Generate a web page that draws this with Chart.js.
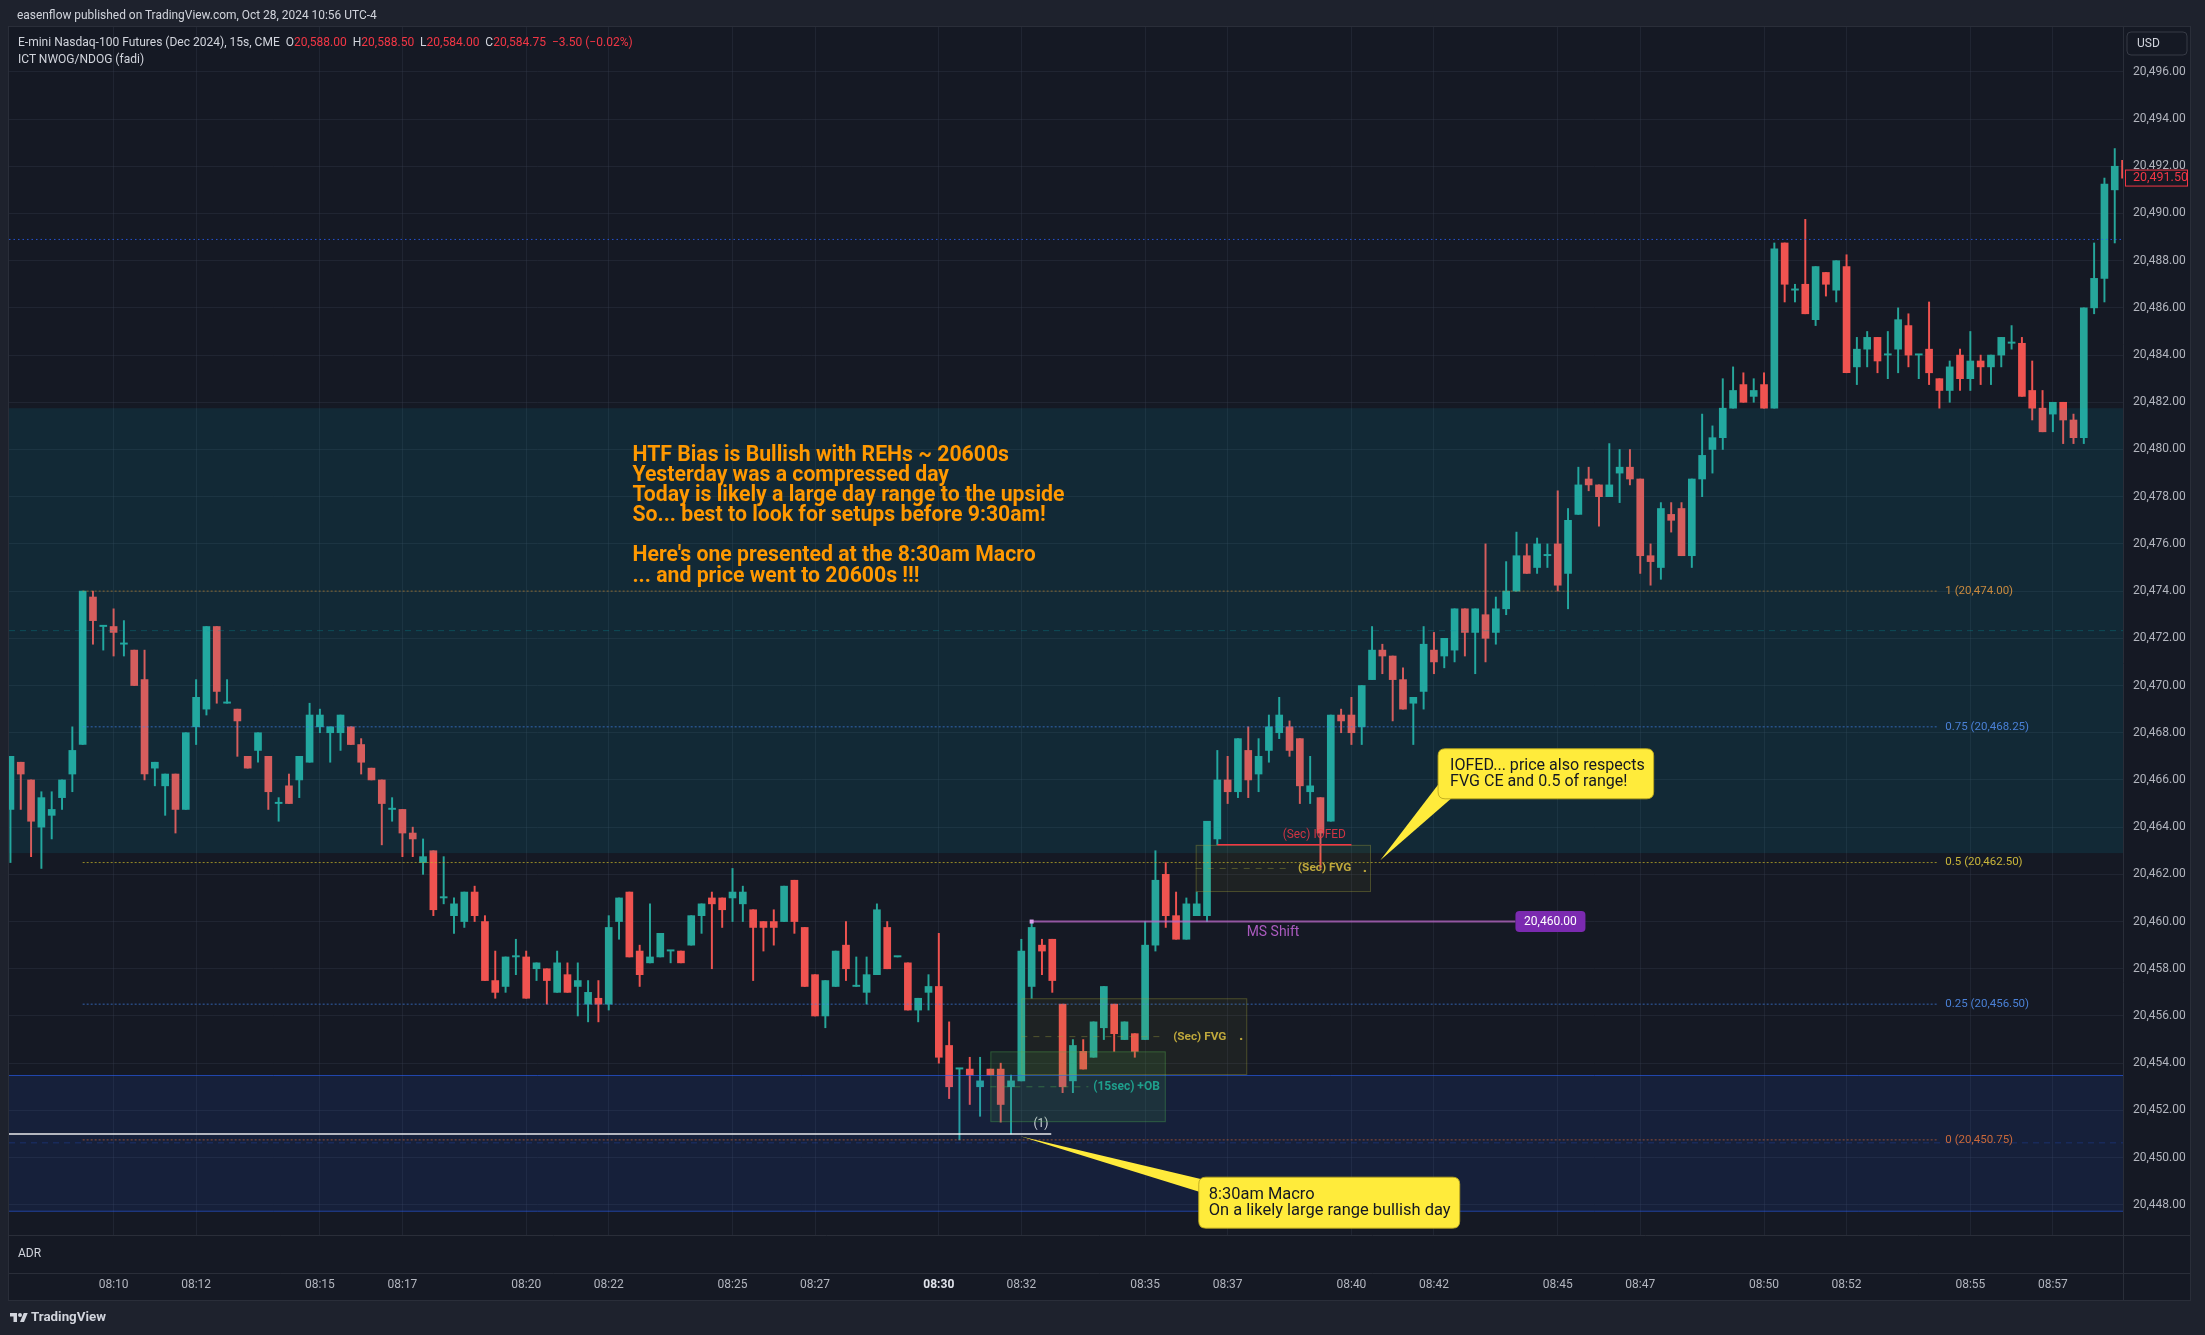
<!DOCTYPE html>
<html>
<head>
<meta charset="utf-8">
<script src="https://cdn.jsdelivr.net/npm/chart.js@4.4.1/dist/chart.umd.min.js"></script>
<style>
html, body { margin: 0; padding: 0; background: #1e222d; width: 2205px; height: 1335px; overflow: hidden; }
#wrap { position: relative; width: 2205px; height: 1335px; }
canvas { position: absolute; left: 0; top: 0; }
.t { position: absolute; white-space: nowrap; color: #d1d4dc; font-family: Roboto, "Noto Sans", sans-serif; font-size: 13px; line-height: 16px; }
.r { color: #f23645; }
</style>
</head>
<body>
<div id="wrap">
  <canvas id="c" width="2205" height="1335"></canvas>
  <div class="t" id="hdr" style="left:17px;top:7px">easenflow published on TradingView.com, Oct 28, 2024 10:56 UTC-4</div>
  <div class="t" id="leg1" style="left:18px;top:34px">E-mini Nasdaq-100 Futures (Dec 2024), 15s, CME&nbsp;&nbsp;O<span class="r">20,588.00</span>&nbsp;&nbsp;H<span class="r">20,588.50</span>&nbsp;&nbsp;L<span class="r">20,584.00</span>&nbsp;&nbsp;C<span class="r">20,584.75</span>&nbsp;&nbsp;<span class="r">−3.50 (−0.02%)</span></div>
  <div class="t" id="leg2" style="left:18px;top:51px">ICT NWOG/NDOG (fadi)</div>
  <svg style="position:absolute;left:10px;top:1311px" width="18" height="14" viewBox="0 0 36 28"><path d="M14 22H7V11H0V4h14v18z" fill="#d1d4dc"/><circle cx="20" cy="8" r="4" fill="#d1d4dc"/><path d="M28 22h-8l7.5-18h8L28 22z" fill="#d1d4dc"/></svg>
  <div class="t" id="foot" style="left:31px;top:1309px;font-weight:bold">TradingView</div>
</div>
<script>
// 15 second bars, first bar 08:07:30
const startTime = '08:07:30';
const barSeconds = 15;

const opens = [
  20464.75, 20466.75, 20466, 20464, 20464.5, 20465.25, 20466.25, 20467.5, 20473.75, 20472.5,
  20472.5, 20471.75, 20471.5, 20470.25, 20466.5, 20465.75, 20466.25, 20464.75, 20468.25, 20469,
  20472.5, 20469.25, 20469, 20467, 20467.25, 20467, 20465, 20465.75, 20466, 20466.75,
  20468.25, 20468, 20468, 20468.25, 20467.5, 20466.5, 20466, 20464.75, 20464.75, 20463.75,
  20462.5, 20463, 20461, 20460.25, 20460, 20461.25, 20460, 20457.5, 20457.25, 20458.5,
  20458.5, 20458, 20458, 20457, 20457.75, 20457.25, 20456.5, 20456.75, 20456.5, 20460,
  20461.25, 20458.75, 20458.25, 20458.5, 20458.75, 20458.75, 20459, 20460.25, 20461, 20461,
  20461, 20460.75, 20460.5, 20460, 20460, 20460, 20461.75, 20459.75, 20457.75, 20456,
  20457.25, 20459, 20457.25, 20457, 20457.75, 20459.75, 20458.5, 20458.25, 20456.25, 20457,
  20457.25, 20454.75, 20453.75, 20453.75, 20453, 20453.75, 20453.75, 20453, 20453.25, 20457.25,
  20459, 20459.25, 20456.5, 20453.25, 20454.5, 20454.25, 20455.5, 20456.5, 20455, 20455.25,
  20455, 20459, 20462, 20460.25, 20459.25, 20460.25, 20460.25, 20463.5, 20466, 20465.5,
  20467.25, 20466.25, 20467.25, 20468, 20468.25, 20467.75, 20465.5, 20465.25, 20464.25, 20468.75,
  20468.75, 20468.25, 20470.25, 20471.5, 20471.25, 20470.25, 20469.25, 20469.75, 20471.5, 20471.25,
  20471.5, 20473.25, 20472.25, 20473, 20472.25, 20473.25, 20474, 20475.5, 20475, 20475.5,
  20476, 20474.75, 20477.25, 20478.75, 20478.5, 20478, 20479, 20479.25, 20478.75, 20475.5,
  20475, 20477.25, 20477.5, 20475.5, 20478.75, 20480, 20480.5, 20481.75, 20482.75, 20482.25,
  20482.75, 20481.75, 20488.75, 20486.75, 20487, 20485.5, 20487.5, 20486.75, 20487.75, 20483.5,
  20484.25, 20484.75, 20484, 20484.25, 20485.25, 20484, 20484.25, 20483, 20482.5, 20484,
  20483, 20483.75, 20483.5, 20484, 20484.5, 20484.5, 20482.5, 20481.75, 20481.5, 20482,
  20481.25, 20480.5, 20486, 20487.25, 20491, 20492.25
];
const highs = [
  20467, 20466.75, 20466, 20465.5, 20465.5, 20466, 20468.25, 20474, 20474, 20472.5,
  20473.25, 20472.75, 20471.5, 20471.5, 20466.75, 20466.25, 20466.25, 20468, 20470.25, 20472.5,
  20472.5, 20470.25, 20469, 20467, 20468, 20467, 20465.25, 20466.25, 20467, 20469.25,
  20469, 20468.25, 20468.75, 20468.25, 20467.75, 20466.5, 20466, 20465.25, 20464.75, 20464,
  20463.5, 20463, 20462.75, 20461, 20461.25, 20461.5, 20460.25, 20458.75, 20458.5, 20459.25,
  20458.75, 20458.25, 20458, 20458.75, 20458.25, 20458.25, 20457.5, 20457.5, 20460.25, 20461,
  20461.25, 20459, 20460.75, 20459.5, 20458.75, 20458.75, 20460.25, 20460.75, 20461.25, 20461,
  20462.25, 20461.5, 20460.5, 20460, 20460.5, 20461.5, 20461.75, 20459.75, 20457.75, 20457.5,
  20458.75, 20460, 20458.5, 20458.5, 20460.75, 20460, 20458.5, 20458.25, 20456.75, 20457.75,
  20459.5, 20455.75, 20453.75, 20454.25, 20454.25, 20453.75, 20454, 20453.5, 20459.25, 20460,
  20459.25, 20459.25, 20456.5, 20455, 20455, 20455.75, 20457.25, 20456.5, 20455.75, 20455.25,
  20460, 20463, 20462.5, 20461.25, 20461, 20461.25, 20464.25, 20467.25, 20467, 20467.75,
  20468.25, 20467.75, 20468.75, 20469.5, 20468.5, 20467.75, 20467, 20465.25, 20468.75, 20469,
  20469.5, 20470, 20472.5, 20471.75, 20471.25, 20470.75, 20469.5, 20472.5, 20472.25, 20472,
  20473.25, 20473.25, 20473.25, 20476, 20473.75, 20475.25, 20476.5, 20476, 20476.25, 20476,
  20478.25, 20477.5, 20479.25, 20479.25, 20478.5, 20480.25, 20480, 20480, 20478.75, 20476,
  20477.75, 20477.75, 20477.75, 20478.75, 20481.5, 20481, 20483, 20483.5, 20483.25, 20483,
  20483.25, 20488.75, 20488.75, 20487, 20489.75, 20487.75, 20487.5, 20488, 20488.25, 20484.75,
  20485, 20484.75, 20485, 20486, 20485.75, 20484, 20486.25, 20483, 20483.75, 20484.25,
  20485, 20484, 20484, 20484.75, 20485.25, 20484.75, 20483.75, 20482.5, 20482, 20482,
  20481.5, 20486, 20488.75, 20491.5, 20492.75, 20492.25
];
const lows = [
  20462.5, 20464.75, 20462.75, 20462.25, 20463.5, 20464.75, 20465.5, 20467.5, 20471.75, 20471.5,
  20471.25, 20471.25, 20470, 20466, 20465.75, 20464.5, 20463.75, 20464.75, 20467.5, 20468.75,
  20469.25, 20469.25, 20467, 20466.5, 20466.75, 20464.75, 20464.25, 20465, 20465.25, 20466.75,
  20468, 20466.75, 20467.25, 20467.5, 20466.25, 20466, 20463.25, 20464.25, 20462.75, 20462.75,
  20462, 20460.25, 20460.75, 20459.5, 20459.75, 20460, 20457.5, 20456.75, 20457, 20457.75,
  20456.75, 20457.5, 20456.5, 20457, 20457, 20456, 20455.75, 20455.75, 20456.25, 20459.25,
  20458.5, 20457.25, 20458.25, 20458.5, 20458.25, 20458.25, 20459, 20459.5, 20458, 20459.75,
  20460, 20460, 20457.5, 20458.75, 20459, 20460, 20459.5, 20457.25, 20456, 20455.5,
  20457.25, 20457.5, 20457.25, 20456.5, 20457.75, 20458, 20458.5, 20456.25, 20455.75, 20456.25,
  20454, 20452.5, 20450.75, 20452.25, 20451.75, 20453.5, 20451.5, 20451, 20453.25, 20456.75,
  20457.75, 20457, 20452.75, 20452.75, 20453.75, 20454.25, 20455, 20454.5, 20455, 20454.25,
  20455, 20458.75, 20459.75, 20459.25, 20459.25, 20460.25, 20460, 20463.25, 20465, 20465.25,
  20465.25, 20465.5, 20466.75, 20467.75, 20467, 20465, 20465, 20462.25, 20464.25, 20468,
  20467.5, 20467.5, 20470.25, 20470.5, 20468.5, 20469, 20467.5, 20469, 20470.5, 20470.75,
  20471, 20471.25, 20470.5, 20471, 20471.75, 20473, 20474, 20474.75, 20474.75, 20475,
  20474, 20473.25, 20477.25, 20478.25, 20476.75, 20478, 20477.75, 20478.5, 20474.75, 20474.25,
  20474.5, 20476.5, 20475.5, 20475, 20478, 20479, 20480, 20481.75, 20482, 20482,
  20481.75, 20481.75, 20486.25, 20486.25, 20485.75, 20485.25, 20486.5, 20486.25, 20483.25, 20482.75,
  20483.5, 20483.25, 20483, 20483.25, 20483.5, 20483, 20482.75, 20481.75, 20482, 20482.5,
  20482.5, 20482.75, 20482.75, 20483.5, 20484.25, 20482.25, 20481.25, 20480.75, 20480.75, 20480.25,
  20480.25, 20480.25, 20485.75, 20486.25, 20488.75, 20491.5
];
const closes = [
  20467, 20466.25, 20464.25, 20465.25, 20464.75, 20466, 20467.25, 20474, 20472.75, 20472.5,
  20472.25, 20471.75, 20470, 20466.25, 20466.75, 20466.25, 20464.75, 20468, 20469.5, 20472.5,
  20469.75, 20469.25, 20468.5, 20466.5, 20468, 20465.5, 20465, 20465, 20467, 20468.75,
  20468.75, 20468.25, 20468.75, 20467.5, 20466.75, 20466, 20465, 20464.75, 20463.75, 20463.5,
  20462.75, 20460.5, 20461, 20460.75, 20461.25, 20460.25, 20457.5, 20457, 20458.5, 20458.5,
  20456.75, 20458.25, 20457.5, 20458.25, 20457, 20457.5, 20457, 20456.5, 20459.75, 20461,
  20458.5, 20457.75, 20458.5, 20459.5, 20458.75, 20458.25, 20460.25, 20460.75, 20460.75, 20460.5,
  20461.25, 20461.25, 20459.75, 20459.75, 20459.75, 20461.5, 20460, 20457.25, 20456, 20457.5,
  20458.75, 20458, 20457.25, 20457.75, 20460.5, 20458, 20458.5, 20456.25, 20456.75, 20457.25,
  20454.25, 20453, 20453.75, 20453.5, 20453.25, 20453.5, 20452.25, 20453.25, 20458.75, 20459.75,
  20458.75, 20457.5, 20453, 20454.75, 20453.75, 20455.75, 20457.25, 20455.25, 20455.75, 20454.5,
  20459, 20461.75, 20460.25, 20459.25, 20460.75, 20460.75, 20464.25, 20466, 20465.5, 20467.75,
  20466, 20467, 20468.25, 20468.75, 20467.25, 20465.75, 20465.75, 20463.75, 20468.75, 20468.5,
  20468, 20470, 20471.5, 20471.25, 20470.25, 20469, 20469.5, 20471.75, 20471, 20472,
  20473.25, 20472.25, 20473.25, 20472, 20473.25, 20474, 20475.5, 20474.75, 20476, 20475.5,
  20474.25, 20477, 20478.5, 20478.5, 20478, 20478.5, 20479.25, 20478.75, 20475.5, 20475.25,
  20477.5, 20477, 20475.5, 20478.75, 20479.75, 20480.5, 20481.75, 20482.5, 20482, 20482.5,
  20481.75, 20488.5, 20487, 20486.75, 20485.75, 20487.75, 20487, 20488, 20483.25, 20484.25,
  20484.75, 20483.75, 20484, 20485.5, 20484, 20484, 20483.25, 20482.5, 20483.5, 20483,
  20483.75, 20483.5, 20484, 20484.75, 20484.5, 20482.25, 20481.75, 20480.75, 20482, 20481.25,
  20480.5, 20486, 20487.25, 20491.25, 20492, 20491.5
];

const timeTicks = ['08:10', '08:12', '08:15', '08:17', '08:20', '08:22', '08:25', '08:27', '08:30', '08:32',
                   '08:35', '08:37', '08:40', '08:42', '08:45', '08:47', '08:50', '08:52', '08:55', '08:57'];
const priceTicks = [20448, 20450, 20452, 20454, 20456, 20458, 20460, 20462, 20464, 20466, 20468, 20470, 20472,
                    20474, 20476, 20478, 20480, 20482, 20484, 20486, 20488, 20490, 20492, 20494, 20496];

// study levels (prices)
const fibRatios = [1, 0.75, 0.5, 0.25, 0];
const fibPrices = [20474.00, 20468.25, 20462.50, 20456.50, 20450.75];
const nwogZone = [20462.9, 20481.75];
const ndogZone = [20447.75, 20453.5];
const prevClose = 20488.9;
const sweepLow = 20451.0;
const iofedPrice = 20463.25;
const msShiftPrice = 20460.00;
const fvgUpper = [20461.25, 20463.25];
const fvgLower = [20453.5, 20456.75];
const obZone = [20451.5, 20454.5];
const lastPrice = 20491.50;

const noteLines = [
  'HTF Bias is Bullish with REHs ~ 20600s',
  'Yesterday was a compressed day',
  'Today is likely a large day range to the upside',
  'So... best to look for setups before 9:30am!',
  '',
  "Here's one presented at the 8:30am Macro",
  '... and price went to 20600s !!!'
];

const family = 'Roboto, "Noto Sans", sans-serif';
const upColor = '#26a69a';
const downColor = '#ef5350';
const pageBg = '#1e222d';
const paneBg = '#151924';
const lineCol = '#2a2e39';
const panel = { left: 8, top: 26, right: 2191, bottom: 1301 };
const adrHeight = 38;

const toSec = s => { const p = s.split(':').map(Number); return p[0] * 3600 + p[1] * 60 + (p[2] || 0); };
const tickIndex = timeTicks.map(t => (toSec(t) - toSec(startTime)) / barSeconds);
const fmt = v => v.toLocaleString('en-US', { minimumFractionDigits: 2, maximumFractionDigits: 2 });
const candleColors = opens.map((o, i) => closes[i] >= o ? upColor : downColor);

function fitSize(c, str, target, weight) {
  c.font = weight + ' 100px ' + family;
  return 100 * target / c.measureText(str).width;
}
function txt(c, str, x, y, color, size, weight, align) {
  c.font = (weight || 'normal') + ' ' + size + 'px ' + family;
  c.fillStyle = color;
  c.textAlign = align || 'left';
  c.textBaseline = 'middle';
  c.fillText(str, x, y);
}
function hline(c, x1, x2, y, color, w, dash) {
  c.save();
  c.strokeStyle = color; c.lineWidth = w; c.setLineDash(dash || []);
  c.beginPath(); c.moveTo(x1, y); c.lineTo(x2, y); c.stroke();
  c.restore();
}
function box(c, x1, y1, x2, y2, fill, stroke) {
  c.fillStyle = fill; c.fillRect(x1, y1, x2 - x1, y2 - y1);
  if (stroke) { c.strokeStyle = stroke; c.lineWidth = 1; c.strokeRect(x1 + 0.5, y1 + 0.5, x2 - x1 - 1, y2 - y1 - 1); }
}
function rrect(c, x, y, w, h, r) {
  c.beginPath();
  c.moveTo(x + r, y); c.lineTo(x + w - r, y); c.quadraticCurveTo(x + w, y, x + w, y + r);
  c.lineTo(x + w, y + h - r); c.quadraticCurveTo(x + w, y + h, x + w - r, y + h);
  c.lineTo(x + r, y + h); c.quadraticCurveTo(x, y + h, x, y + h - r);
  c.lineTo(x, y + r); c.quadraticCurveTo(x, y, x + r, y); c.closePath();
}
function callout(c, b, tip, base, lines, target) {
  c.fillStyle = '#ffeb3b';
  c.beginPath(); c.moveTo(tip[0], tip[1]); c.lineTo(base[0][0], base[0][1]); c.lineTo(base[1][0], base[1][1]); c.closePath(); c.fill();
  rrect(c, b.l, b.t, b.r - b.l, b.b - b.t, 7); c.fill();
  c.strokeStyle = 'rgba(190,170,30,0.9)'; c.lineWidth = 1; c.stroke();
  const size = fitSize(c, lines[target], b.w, 'normal');
  const mid = (b.t + b.b) / 2;
  lines.forEach((s, k) => txt(c, s, b.l + b.pad, mid + (k - (lines.length - 1) / 2) * 15.5, '#131722', size, 'normal'));
}

const studies = {
  id: 'studies',
  beforeDraw(chart) {
    const c = chart.ctx;
    c.save();
    c.fillStyle = pageBg; c.fillRect(0, 0, chart.width, chart.height);
    c.fillStyle = paneBg; c.fillRect(panel.left, panel.top, panel.right - panel.left, panel.bottom - panel.top);
    c.restore();
  },
  afterDatasetsDraw(chart) {
    const c = chart.ctx, a = chart.chartArea;
    const X = v => chart.scales.x.getPixelForValue(v);
    const Y = v => chart.scales.y.getPixelForValue(v);
    c.save();
    c.beginPath(); c.rect(a.left, a.top, a.right - a.left, a.bottom - a.top); c.clip();

    // NWOG / NDOG zones
    box(c, a.left, Y(nwogZone[1]), a.right, Y(nwogZone[0]), 'rgba(0,188,212,0.1)');
    hline(c, a.left, a.right, Y((nwogZone[0] + nwogZone[1]) / 2), 'rgba(0,160,170,0.3)', 1, [6, 5]);
    box(c, a.left, Y(ndogZone[1]), a.right, Y(ndogZone[0]), 'rgba(41,98,255,0.1)');
    hline(c, a.left, a.right, Y(ndogZone[1]) + 0.5, 'rgba(41,98,255,0.6)', 1);
    hline(c, a.left, a.right, Y(ndogZone[0]) + 0.5, 'rgba(41,98,255,0.6)', 1);
    hline(c, a.left, a.right, Y((ndogZone[0] + ndogZone[1]) / 2), 'rgba(41,98,255,0.25)', 1, [6, 5]);
    hline(c, a.left, a.right, Y(prevClose), 'rgba(41,98,255,0.8)', 1, [1.5, 3]);

    // range levels
    const fibLine = ['rgba(230,150,40,0.55)', 'rgba(66,133,244,0.65)', 'rgba(205,185,40,0.7)', 'rgba(66,133,244,0.65)', 'rgba(230,110,50,0.6)'];
    const fibText = ['#c98a3e', '#4a80d6', '#c8b53a', '#4a80d6', '#c9683a'];
    fibRatios.forEach((r, k) => {
      const y = Y(fibPrices[k]);
      hline(c, X(7), X(186.8), y, fibLine[k], 1, [2, 2]);
      txt(c, r + ' (' + fmt(fibPrices[k]) + ')', X(186.8) + 8, y, fibText[k], 11.5);
    });

    // sweep low
    hline(c, a.left, X(100.9), Y(sweepLow), 'rgba(255,255,255,0.9)', 1.5);
    txt(c, '(1)', X(99.9), Y(sweepLow) - 10, '#d1d4dc', 12, 'normal', 'center');

    // order block
    box(c, X(95), Y(obZone[1]), X(112), Y(obZone[0]), 'rgba(76,175,80,0.13)', 'rgba(76,175,80,0.35)');
    hline(c, X(95), X(104.5), Y((obZone[0] + obZone[1]) / 2), 'rgba(76,175,80,0.45)', 1, [6, 6]);
    txt(c, '(15sec) +OB', X(108.2), Y((obZone[0] + obZone[1]) / 2), '#1f9f8c', fitSize(c, '(15sec) +OB', 66.7, 'bold'), 'bold', 'center');

    // fair value gaps
    [[fvgLower, 98, 119.9, 111.5, 115.3], [fvgUpper, 114.9, 131.9, 124, 127.4]].forEach(g => {
      const z = g[0], mid = (z[0] + z[1]) / 2;
      box(c, X(g[1]), Y(z[1]), X(g[2]), Y(z[0]), 'rgba(180,180,40,0.06)', 'rgba(160,160,60,0.35)');
      hline(c, X(g[1]), X(g[3]), Y(mid), 'rgba(160,160,60,0.4)', 1, [6, 6]);
      txt(c, '(Sec) FVG', X(g[4]), Y(mid), '#bfa83c', fitSize(c, '(Sec) FVG', 53.3, 'bold'), 'bold', 'center');
      txt(c, '.', X(g[2]) - 6, Y(mid), '#bfa83c', 15, 'bold', 'center');
    });

    // IOFED
    hline(c, X(117), X(130), Y(iofedPrice), '#f23645', 1.5);
    txt(c, '(Sec) IOFED', X(126.4), Y(iofedPrice) - 10, 'rgba(242,54,69,0.85)', fitSize(c, '(Sec) IOFED', 63.3, 'normal'), 'normal', 'center');

    // market structure shift
    const ym = Y(msShiftPrice);
    hline(c, X(99), X(145.9), ym, 'rgba(186,104,200,0.75)', 2);
    c.fillStyle = '#d9a0ea'; c.fillRect(X(99) - 2, ym - 2, 4, 4);
    txt(c, 'MS Shift', X(122.4), ym + 11, '#aa5abe', fitSize(c, 'MS Shift', 52.7, 'normal'), 'normal', 'center');
    c.fillStyle = '#7b2ab0'; rrect(c, X(145.9), ym - 10.5, 70, 21, 4); c.fill();
    txt(c, fmt(msShiftPrice), X(145.9) + 35, ym, '#ffffff', 12, 'normal', 'center');

    // notes
    const ns = fitSize(c, noteLines[2], 432, 'bold');
    noteLines.forEach((s, k) => txt(c, s, X(60.3), Y(20479.74) + k * 20.1, '#ff9800', ns, 'bold'));

    // callouts
    const b1 = { l: X(115.2), r: X(140.5), t: Y(20449.17), b: Y(20447.01), pad: 10, w: 242 };
    callout(c, b1, [X(97.9), Y(20450.9)], [[b1.l + 3, b1.t + 2], [b1.l + 2, b1.t + 15]],
      ['8:30am Macro', 'On a likely large range bullish day'], 1);
    const b2 = { l: X(138.4), r: X(159.3), t: Y(20467.32), b: Y(20465.2), pad: 12, w: 194.7 };
    callout(c, b2, [X(132.8), Y(20462.6)], [[b2.l, b2.b - 14], [b2.l + 14, b2.b - 1]],
      ['IOFED... price also respects', 'FVG CE and 0.5 of range!'], 0);

    c.restore();
  },
  afterDraw(chart) {
    const c = chart.ctx, a = chart.chartArea;
    const Y = v => chart.scales.y.getPixelForValue(v);
    c.save();
    hline(c, a.right + 0.5, a.right + 0.5, 0, lineCol, 1);
    c.strokeStyle = lineCol; c.lineWidth = 1;
    c.beginPath();
    c.moveTo(a.right + 0.5, panel.top); c.lineTo(a.right + 0.5, panel.bottom);
    c.moveTo(panel.left, a.bottom + 0.5); c.lineTo(panel.right, a.bottom + 0.5);
    c.moveTo(panel.left, a.bottom + adrHeight + 0.5); c.lineTo(panel.right, a.bottom + adrHeight + 0.5);
    c.stroke();
    c.strokeRect(panel.left + 0.5, panel.top + 0.5, panel.right - panel.left - 1, panel.bottom - panel.top - 1);
    txt(c, 'ADR', 18, a.bottom + adrHeight / 2, '#d1d4dc', 12);

    // currency box
    c.fillStyle = paneBg; rrect(c, a.right + 4, panel.top + 6, 60, 23, 4); c.fill();
    c.strokeStyle = '#363a45'; c.stroke();
    txt(c, 'USD', a.right + 14, panel.top + 17.5, '#d1d4dc', 12);

    // last price
    const yl = Y(lastPrice);
    c.fillStyle = paneBg; c.fillRect(a.right + 2, yl - 8.5, 63, 17);
    c.strokeStyle = '#f23645'; c.strokeRect(a.right + 2.5, yl - 8, 62, 16);
    txt(c, fmt(lastPrice), a.right + 10, yl, '#f23645', 12.5);
    c.restore();
  }
};

Chart.defaults.font.family = family;

new Chart(document.getElementById('c'), {
  type: 'bar',
  data: {
    datasets: [
      {
        label: 'wick',
        data: opens.map((o, i) => ({ x: i, y: [lows[i], highs[i]] })),
        backgroundColor: candleColors,
        barThickness: 1.3,
        grouped: false,
        clip: 0,
        order: 2
      },
      {
        label: 'body',
        data: opens.map((o, i) => ({ x: i, y: [o, closes[i]] })),
        backgroundColor: candleColors,
        barThickness: 7,
        minBarLength: 1.3,
        grouped: false,
        clip: 0,
        order: 1
      }
    ]
  },
  options: {
    responsive: false,
    animation: false,
    devicePixelRatio: 1,
    layout: { padding: { left: 9, right: 14, top: 27, bottom: 34 } },
    plugins: { legend: { display: false }, tooltip: { enabled: false } },
    scales: {
      x: {
        type: 'linear',
        min: -0.14,
        max: 204.8,
        offset: false,
        grid: { color: 'rgba(54,60,78,0.35)', drawTicks: false, offset: false },
        border: { display: false },
        afterBuildTicks: s => { s.ticks = tickIndex.map(v => ({ value: v })); },
        afterFit: s => { s.height = 66; },
        ticks: {
          autoSkip: false,
          maxRotation: 0,
          padding: 43,
          callback: v => timeTicks[tickIndex.indexOf(v)] || '',
          color: ctx => ctx.tick && ctx.tick.label === '08:30' ? '#e0e3eb' : '#b2b5be',
          font: ctx => ({ family: family, size: 12, weight: ctx.tick && ctx.tick.label === '08:30' ? 'bold' : 'normal' })
        }
      },
      y: {
        position: 'right',
        min: 20446.72,
        max: 20497.90,
        grid: { color: 'rgba(54,60,78,0.35)', drawTicks: false },
        border: { display: false },
        afterBuildTicks: s => { s.ticks = priceTicks.map(v => ({ value: v })); },
        afterFit: s => { s.width = 68; },
        ticks: { padding: 10, color: '#b2b5be', font: { size: 12 }, callback: v => fmt(v) }
      }
    }
  },
  plugins: [studies]
});

// size the html captions to the widths they take in the snapshot
function fitEl(el, target) {
  const w = el.getBoundingClientRect().width;
  el.style.fontSize = (parseFloat(getComputedStyle(el).fontSize) * target / w).toFixed(2) + 'px';
}
fitEl(document.getElementById('hdr'), 360);
fitEl(document.getElementById('leg1'), 615);
document.getElementById('leg2').style.fontSize = document.getElementById('leg1').style.fontSize;
fitEl(document.getElementById('foot'), 75);
</script>
</body>
</html>
